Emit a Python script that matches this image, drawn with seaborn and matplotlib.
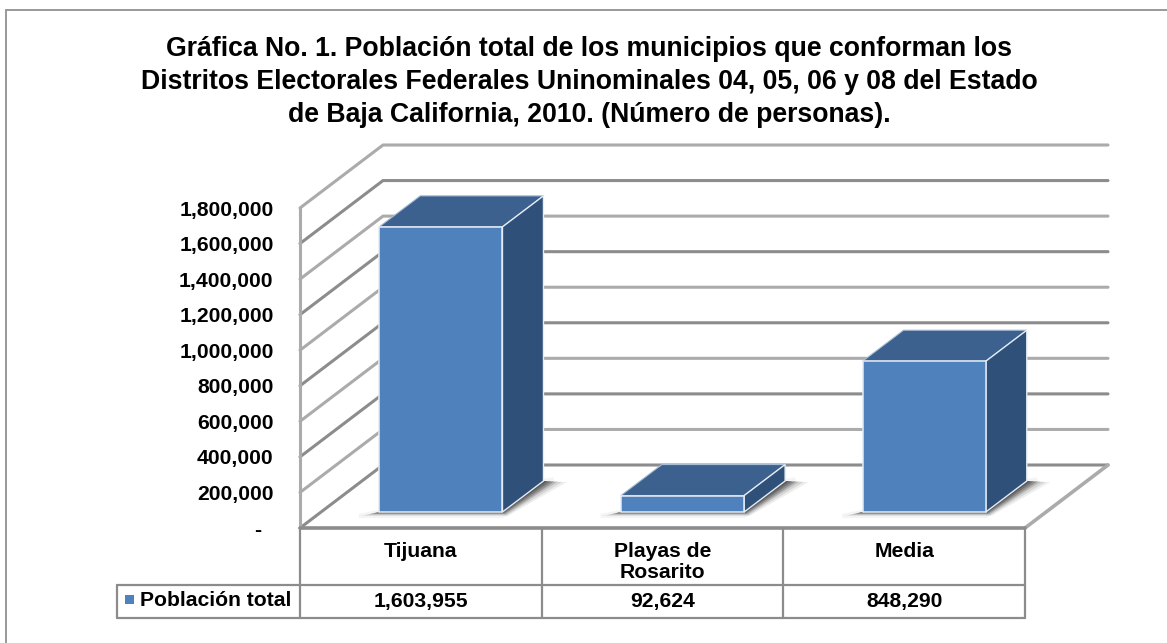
import numpy as np
import matplotlib
matplotlib.use("Agg")
import matplotlib.pyplot as plt
from matplotlib.patches import Polygon, Rectangle
from matplotlib.lines import Line2D
import seaborn as sns

categories = ["Tijuana", "Playas de\nRosarito", "Media"]
values = [1603955, 92624, 848290]
tick_values = [0, 200000, 400000, 600000, 800000, 1000000, 1200000, 1400000, 1600000, 1800000]
series_name = "Población total"
title = ("Gráfica No. 1. Población total de los municipios que conforman los\n"
         "Distritos Electorales Federales Uninominales 04, 05, 06 y 08 del Estado\n"
         "de Baja California, 2010. (Número de personas).")

FRONT, TOP, SIDE = "#4F81BD", "#3C618F", "#2F5179"
W, H = 1167, 643
AX_L, AX_R, AX_T, AX_B = 300, 1025, 208, 528

sns.set_theme(style="white")
plt.rcParams["font.family"] = ["Liberation Sans", "DejaVu Sans"]
plt.rcParams["font.weight"] = "bold"

fig = plt.figure(figsize=(W / 100, H / 100), dpi=100, facecolor="white")
ax = fig.add_axes([AX_L / W, 1 - AX_B / H, (AX_R - AX_L) / W, (AX_B - AX_T) / H])
ax.patch.set_alpha(0)

sns.barplot(x=categories, y=values, color=FRONT, saturation=1, width=0.51, ax=ax, zorder=5)
ax.set_xlim(-0.5, 2.5)
ax.set_ylim(0, 1800000)

px_x = (AX_R - AX_L) / 3
px_y = (AX_B - AX_T) / 1800000
wall_dx, wall_dy = 83 / px_x, 63 / px_y
bar_dx, bar_dy = 41 / px_x, 31 / px_y
base = 16 / px_y
shift = 20 / px_x

# walls / gridlines
GRID_A, GRID_B = "#8C8C8C", "#ABABAB"
for i, v in enumerate(tick_values):
    col = GRID_B if i % 2 else GRID_A
    ax.plot([-0.5, -0.5 + wall_dx, 2.5 + wall_dx],
            [v, v + wall_dy, v + wall_dy],
            color=col, lw=2.2, clip_on=False, zorder=1, solid_joinstyle="miter")
ax.plot([2.5, 2.5 + wall_dx], [0, wall_dy], color=GRID_B, lw=2.6, clip_on=False, zorder=1)
ax.plot([-0.5, -0.5], [0, 1800000], color=GRID_B, lw=2.2, clip_on=False, zorder=2)
ax.plot([-0.5, 2.5], [0, 0], color="#8C8C8C", lw=2.6, clip_on=False, zorder=2)

# shadows and 3D faces of each bar, derived from the seaborn bars
for p, v in zip(ax.patches, values):
    p.set_x(p.get_x() + shift)
    p.set_y(base)
    x0, w = p.get_x(), p.get_width()
    x1 = x0 + w
    y0, y1 = base, base + v
    p.set_edgecolor("#E4ECF5")
    p.set_linewidth(1.1)
    # soft floor shadow
    ax.add_patch(Polygon([(x0 - shift, y0 - 4 / px_y), (x1, y0 - 4 / px_y),
                          (x1 + bar_dx + shift * 0.5, y0 + bar_dy * 1.05), (x1 + bar_dx, y0 + bar_dy), (x0, y0)],
                         closed=True, fc="#F7F7F7", ec="#F4F4F4", lw=3, clip_on=False, zorder=2.5))
    for k, a in zip([1.0, 0.8, 0.6, 0.45, 0.3, 0.15], [0.08, 0.12, 0.18, 0.25, 0.32, 0.4]):
        sx = 18 * k / px_x
        sy = 4 * k / px_y
        ax.add_patch(Polygon([(x0 - sx, y0 - sy), (x1 + sx * 0.3, y0 - sy),
                              (x1 + bar_dx + sx * 1.3, y0 + bar_dy - sy * 0.3),
                              (x1 + bar_dx, y0 + bar_dy), (x0, y0)],
                             closed=True, fc="#303030", ec="none", alpha=a,
                             clip_on=False, zorder=3))
    ax.add_patch(Polygon([(x0, y1), (x1, y1), (x1 + bar_dx, y1 + bar_dy), (x0 + bar_dx, y1 + bar_dy)],
                         closed=True, fc=TOP, ec="#A9BDD4", lw=0.8, clip_on=False, zorder=4))
    ax.add_patch(Polygon([(x1, y0), (x1, y1), (x1 + bar_dx, y1 + bar_dy), (x1 + bar_dx, y0 + bar_dy)],
                         closed=True, fc=SIDE, ec="#E4ECF5", lw=1.0, clip_on=False, zorder=4))

# axis ticks
ax.set_yticks(tick_values)
ax.set_yticklabels(["-  " if v == 0 else f"{v:,}" for v in tick_values], fontsize=15.2, fontweight="bold", color="black")
ax.tick_params(axis="y", length=0, pad=19)
ax.tick_params(axis="x", length=0, pad=10)
ax.set_xticks(range(3))
ax.set_xticklabels(categories, fontsize=15.2, fontweight="bold", color="black", linespacing=1.15)
ax.set_xlabel("")
ax.set_ylabel("")
for s in ax.spines.values():
    s.set_visible(False)

# data table under the axis
tr = ax.get_xaxis_transform()
def yfrac(py):
    return (AX_B - py) / (AX_B - AX_T)
edges = [-0.5, 0.5, 1.5, 2.5]
TC = "#8C8C8C"
for e in edges:
    ax.plot([e, e], [yfrac(528), yfrac(618)], transform=tr, color=TC, lw=1.6, clip_on=False)
legend_left = -0.5 - (AX_L - 117) / px_x
for py in (585, 618):
    ax.plot([legend_left, 2.5], [yfrac(py), yfrac(py)], transform=tr, color=TC, lw=1.6, clip_on=False)
ax.plot([legend_left, legend_left], [yfrac(585), yfrac(618)], transform=tr, color=TC, lw=1.6, clip_on=False)
for i, v in enumerate(values):
    ax.text(i, yfrac(602), f"{v:,}", transform=tr, ha="center", va="center",
            fontsize=15.2, fontweight="bold", color="black")
fig.add_artist(Rectangle((125 / W, 1 - 604 / H), 9 / W, 9 / H, transform=fig.transFigure, fc=FRONT, ec="none"))
fig.text(140 / W, 1 - 601 / H, series_name, ha="left", va="center", fontsize=15.2, fontweight="bold", color="black")

# title
fig.text(589 / W, 1 - 82 / H, title, ha="center", va="center", fontsize=19.2, fontweight="bold",
         color="black", linespacing=1.33)

# chart frame: top and left edges only reach the image
fig.add_artist(Line2D([6 / W, 6 / W, 1], [0, 1 - 10 / H, 1 - 10 / H], transform=fig.transFigure,
                      color="#999999", lw=1.4, solid_joinstyle="miter"))

fig.savefig("out.png", dpi=100, facecolor="white")
